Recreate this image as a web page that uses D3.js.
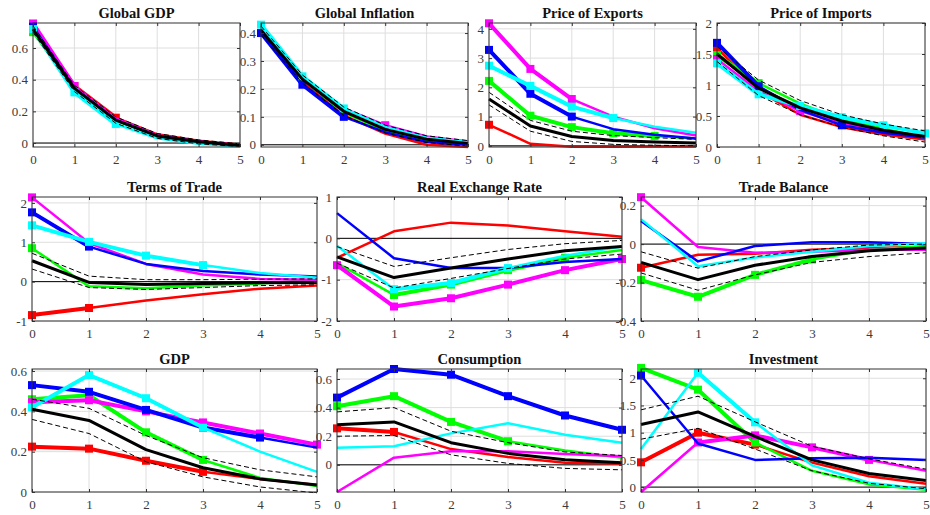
<!DOCTYPE html>
<html>
<head>
<meta charset="utf-8">
<script src="https://cdn.jsdelivr.net/npm/d3@7"></script>
<style>
  body { margin: 0; background: #fff; }
  svg { display: block; }
  text { font-family: "Liberation Serif", "Times New Roman", serif; }
</style>
</head>
<body>
<script>
// horizon and series order: red, green, magenta, blue, cyan ; band = median, upper, lower
const steps = [0, 1, 2, 3, 4, 5];
const panelTitles = ['Global GDP', 'Global Inflation', 'Price of Exports', 'Price of Imports',
    'Terms of Trade', 'Real Exchange Rate', 'Trade Balance', 'GDP', 'Consumption', 'Investment'];

const globalGdpLines = [
    [0.745, 0.36, 0.16, 0.055, 0.015, -0.01],
    [0.70, 0.34, 0.14, 0.045, 0.005, -0.015],
    [0.755, 0.36, 0.155, 0.05, 0.01, -0.012],
    [0.735, 0.345, 0.145, 0.045, 0.008, -0.015],
    [0.72, 0.32, 0.12, 0.03, -0.005, -0.022]
];
const globalGdpBand = [
    [0.72, 0.345, 0.145, 0.045, 0.008, -0.015],
    [0.74, 0.365, 0.165, 0.06, 0.02, -0.005],
    [0.70, 0.325, 0.125, 0.03, -0.005, -0.022]
];
const globalGdpMarks = [[0, 1, 2], [0], [0, 1], [0], [0, 1, 2]];
const globalGdpTicks = [0, 0.2, 0.4, 0.6];
const globalGdpRange = [-0.025, 0.758];

const globalInflLines = [
    [0.40, 0.225, 0.105, 0.04, 0.0, -0.008],
    [0.41, 0.235, 0.115, 0.05, 0.015, 0.0],
    [0.41, 0.24, 0.13, 0.07, 0.03, 0.012],
    [0.40, 0.215, 0.10, 0.045, 0.01, 0.0],
    [0.43, 0.245, 0.13, 0.065, 0.025, 0.01]
];
const globalInflBand = [
    [0.41, 0.235, 0.12, 0.055, 0.02, 0.005],
    [0.425, 0.25, 0.135, 0.07, 0.032, 0.015],
    [0.395, 0.22, 0.105, 0.042, 0.008, -0.005]
];
const globalInflMarks = [[], [], [3], [0, 1, 2], [0, 1, 2]];
const globalInflTicks = [0, 0.1, 0.2, 0.3, 0.4];
const globalInflRange = [-0.008, 0.436];

const exportPriceLines = [
    [0.72, 0.07, -0.03, -0.03, -0.02, -0.02],
    [2.22, 1.03, 0.64, 0.43, 0.34, 0.25],
    [4.19, 2.63, 1.6, 1.0, 0.6, 0.35],
    [3.28, 1.78, 1.0, 0.57, 0.38, 0.25],
    [2.74, 2.05, 1.34, 0.95, 0.65, 0.45]
];
const exportPriceBand = [
    [1.6, 0.68, 0.32, 0.18, 0.13, 0.1],
    [1.83, 0.87, 0.5, 0.35, 0.28, 0.22],
    [1.4, 0.5, 0.15, 0.05, 0.02, 0.0]
];
const exportPriceMarks = [[0], [0, 1, 2, 3, 4], [0, 1, 2], [0, 1, 2], [0, 1, 2, 3]];
const exportPriceTicks = [0, 1, 2, 3, 4];
const exportPriceRange = [-0.04, 4.2];

const importPriceLines = [
    [1.6, 0.9, 0.52, 0.32, 0.2, 0.12],
    [1.48, 1.03, 0.7, 0.45, 0.3, 0.15],
    [1.42, 0.9, 0.58, 0.38, 0.25, 0.16],
    [1.68, 0.98, 0.6, 0.35, 0.23, 0.15],
    [1.35, 0.85, 0.66, 0.48, 0.35, 0.22]
];
const importPriceBand = [
    [1.5, 0.95, 0.63, 0.42, 0.27, 0.17],
    [1.62, 1.08, 0.75, 0.52, 0.37, 0.26],
    [1.38, 0.83, 0.52, 0.32, 0.18, 0.08]
];
const importPriceMarks = [[0], [0, 1], [0, 2], [0, 1, 3], [0, 1, 2, 3, 4, 5]];
const importPriceTicks = [0, 0.5, 1, 1.5, 2];
const importPriceRange = [0, 2];

const totLines = [
    [-0.85, -0.67, -0.48, -0.32, -0.18, -0.1],
    [0.85, -0.12, -0.17, -0.1, -0.05, 0.05],
    [2.14, 0.98, 0.45, 0.18, 0.07, 0.05],
    [1.76, 0.89, 0.45, 0.27, 0.18, 0.13],
    [1.43, 1.01, 0.66, 0.42, 0.22, 0.1]
];
const totBand = [
    [0.53, -0.02, -0.07, -0.05, -0.03, -0.02],
    [0.72, 0.14, 0.05, 0.05, 0.06, 0.07],
    [0.32, -0.15, -0.2, -0.15, -0.1, -0.08]
];
const totMarks = [[0, 1], [0], [0], [0, 1], [0, 1, 2, 3]];
const totTicks = [-1, 0, 1, 2];
const totRange = [-1, 2.15];

const rerLines = [
    [-0.47, 0.17, 0.38, 0.31, 0.17, 0.04],
    [-0.6, -1.37, -1.12, -0.77, -0.47, -0.28],
    [-0.65, -1.65, -1.45, -1.12, -0.77, -0.5],
    [0.61, -0.48, -0.72, -0.72, -0.57, -0.5],
    [-0.18, -1.23, -1.08, -0.72, -0.42, -0.2]
];
const rerBand = [
    [-0.45, -0.95, -0.72, -0.5, -0.3, -0.2],
    [-0.2, -0.68, -0.47, -0.27, -0.13, -0.05],
    [-0.6, -1.2, -0.97, -0.73, -0.5, -0.38]
];
const rerMarks = [[], [1, 2, 3, 4], [0, 1, 2, 3, 4, 5], [], [1, 2, 3]];
const rerTicks = [-2, -1, 0, 1];
const rerRange = [-2, 1];

const tradeBalLines = [
    [-0.123, -0.055, -0.05, -0.03, -0.02, -0.015],
    [-0.187, -0.274, -0.16, -0.08, -0.03, -0.01],
    [0.244, -0.015, -0.045, -0.04, -0.03, -0.03],
    [0.12, -0.09, -0.01, 0.01, 0.01, 0.0],
    [0.13, -0.115, -0.07, -0.04, -0.01, 0.005]
];
const tradeBalBand = [
    [-0.095, -0.185, -0.11, -0.065, -0.035, -0.02],
    [-0.04, -0.125, -0.065, -0.03, -0.005, 0.0],
    [-0.15, -0.24, -0.16, -0.095, -0.065, -0.045]
];
const tradeBalMarks = [[0], [0, 1, 2, 3], [0], [], []];
const tradeBalTicks = [-0.4, -0.2, 0, 0.2];
const tradeBalRange = [-0.4, 0.245];

const gdpLines = [
    [0.225, 0.215, 0.155, 0.1, 0.065, 0.035],
    [0.46, 0.48, 0.296, 0.159, 0.07, 0.03],
    [0.445, 0.455, 0.4, 0.345, 0.29, 0.235],
    [0.53, 0.497, 0.407, 0.32, 0.27, 0.22],
    [0.42, 0.58, 0.465, 0.32, 0.2, 0.1]
];
const gdpBand = [
    [0.41, 0.355, 0.21, 0.12, 0.065, 0.035],
    [0.46, 0.415, 0.28, 0.17, 0.11, 0.075],
    [0.36, 0.29, 0.15, 0.075, 0.025, -0.005]
];
const gdpMarks = [[0, 1, 2, 3], [0, 1, 2, 3], [0, 1, 2, 3, 4, 5], [0, 1, 2, 3, 4], [0, 1, 2, 3]];
const gdpTicks = [0, 0.2, 0.4, 0.6];
const gdpRange = [0, 0.61];

const consLines = [
    [0.255, 0.23, 0.11, 0.055, 0.015, 0.01],
    [0.41, 0.48, 0.3, 0.165, 0.1, 0.05],
    [-0.19, 0.05, 0.095, 0.095, 0.075, 0.06],
    [0.47, 0.67, 0.63, 0.48, 0.345, 0.245],
    [0.12, 0.13, 0.22, 0.29, 0.21, 0.155]
];
const consBand = [
    [0.28, 0.3, 0.155, 0.08, 0.035, 0.015],
    [0.37, 0.4, 0.235, 0.155, 0.09, 0.065],
    [0.2, 0.205, 0.07, 0.01, -0.025, -0.035]
];
const consMarks = [[0, 1], [0, 1, 2, 3], [], [0, 1, 2, 3, 4, 5], []];
const consTicks = [0, 0.2, 0.4, 0.6];
const consRange = [-0.19, 0.67];

const invLines = [
    [0.455, 1.0, 0.78, 0.45, 0.2, 0.06],
    [2.19, 1.79, 0.82, 0.3, 0.05, -0.05],
    [-0.09, 0.82, 0.95, 0.73, 0.5, 0.3],
    [2.05, 0.8, 0.5, 0.53, 0.54, 0.5],
    [0.7, 2.1, 1.19, 0.4, 0.08, -0.04]
];
const invBand = [
    [1.15, 1.38, 0.93, 0.5, 0.25, 0.12],
    [1.42, 1.67, 1.2, 0.75, 0.52, 0.33],
    [0.88, 1.08, 0.7, 0.3, 0.07, -0.03]
];
const invMarks = [[0, 1, 2], [0, 1, 2], [1, 2, 3, 4], [0], [1, 2]];
const invTicks = [0, 0.5, 1, 1.5, 2];
const invRange = [-0.09, 2.17];

const width = 930;
const height = 515;
const fontFamily = '"Liberation Serif", "Times New Roman", serif';
const seriesColors = ['#ff0000', '#00ff00', '#ff00ff', '#0000ff', '#00ffff'];

const panels = [
    { lines: globalGdpLines, band: globalGdpBand, marks: globalGdpMarks, ticks: globalGdpTicks, range: globalGdpRange },
    { lines: globalInflLines, band: globalInflBand, marks: globalInflMarks, ticks: globalInflTicks, range: globalInflRange },
    { lines: exportPriceLines, band: exportPriceBand, marks: exportPriceMarks, ticks: exportPriceTicks, range: exportPriceRange },
    { lines: importPriceLines, band: importPriceBand, marks: importPriceMarks, ticks: importPriceTicks, range: importPriceRange },
    { lines: totLines, band: totBand, marks: totMarks, ticks: totTicks, range: totRange },
    { lines: rerLines, band: rerBand, marks: rerMarks, ticks: rerTicks, range: rerRange },
    { lines: tradeBalLines, band: tradeBalBand, marks: tradeBalMarks, ticks: tradeBalTicks, range: tradeBalRange },
    { lines: gdpLines, band: gdpBand, marks: gdpMarks, ticks: gdpTicks, range: gdpRange },
    { lines: consLines, band: consBand, marks: consMarks, ticks: consTicks, range: consRange },
    { lines: invLines, band: invBand, marks: invMarks, ticks: invTicks, range: invRange }
];

// subplot boxes [left, top, width, height]
const boxes = [
    [33, 23, 207, 124], [261, 23, 207, 124], [489, 23, 207, 124], [717, 23, 208, 124],
    [32, 197, 285, 124], [337, 197, 285, 124], [641, 197, 285, 124],
    [32, 369, 285, 123], [337, 369, 285, 123], [641, 369, 285, 123]
];

const svg = d3.select('body').append('svg')
    .attr('width', width)
    .attr('height', height);

panels.forEach((p, i) => drawPanel(p, boxes[i], panelTitles[i]));

function drawPanel(p, box, title) {
    const [left, top, w, h] = box;
    const x = d3.scaleLinear().domain([0, 5]).range([0, w]);
    const y = d3.scaleLinear().domain(p.range).range([h, 0]);
    const g = svg.append('g').attr('transform', `translate(${left},${top})`);

    g.append('rect').attr('width', w).attr('height', h).attr('fill', '#fff');

    // grid
    g.append('g').selectAll('line').data(steps).enter().append('line')
        .attr('x1', d => x(d)).attr('x2', d => x(d))
        .attr('y1', 0).attr('y2', h)
        .attr('stroke', '#dedede').attr('stroke-width', 1);
    g.append('g').selectAll('line').data(p.ticks).enter().append('line')
        .attr('x1', 0).attr('x2', w)
        .attr('y1', d => y(d)).attr('y2', d => y(d))
        .attr('stroke', '#dedede').attr('stroke-width', 1);

    // zero line
    if (p.range[0] < 0 && p.range[1] > 0) {
        g.append('line')
            .attr('x1', 0).attr('x2', w)
            .attr('y1', y(0)).attr('y2', y(0))
            .attr('stroke', '#000').attr('stroke-width', 1);
    }

    const line = d3.line().x((d, i) => x(steps[i])).y(d => y(d));

    p.lines.forEach((vals, k) => {
        const color = seriesColors[k];
        const marks = p.marks[k];
        g.append('path').attr('d', line(vals))
            .attr('fill', 'none').attr('stroke', color).attr('stroke-width', 2.5)
            .attr('stroke-linejoin', 'round');
        // thicker piece where restrictions hold
        for (let i = 0; i < 5; i++) {
            if (marks.includes(i) && marks.includes(i + 1)) {
                g.append('line')
                    .attr('x1', x(steps[i])).attr('y1', y(vals[i]))
                    .attr('x2', x(steps[i + 1])).attr('y2', y(vals[i + 1]))
                    .attr('stroke', color).attr('stroke-width', 4).attr('stroke-linecap', 'round');
            }
        }
        g.append('g').selectAll('rect').data(marks).enter().append('rect')
            .attr('x', d => x(steps[d]) - 4)
            .attr('y', d => y(vals[d]) - 4)
            .attr('width', 8).attr('height', 8)
            .attr('fill', color);
    });

    // credible band and median
    [p.band[1], p.band[2]].forEach(vals => {
        g.append('path').attr('d', line(vals))
            .attr('fill', 'none').attr('stroke', '#000').attr('stroke-width', 1)
            .attr('stroke-dasharray', '5,3');
    });
    g.append('path').attr('d', line(p.band[0]))
        .attr('fill', 'none').attr('stroke', '#000').attr('stroke-width', 3)
        .attr('stroke-linejoin', 'round');

    // axes
    const fmt = d => String(d);
    const xAxis = g.append('g').attr('transform', `translate(0,${h})`)
        .call(d3.axisBottom(x).tickValues(steps).tickSize(-3).tickPadding(8).tickFormat(fmt));
    const yAxis = g.append('g')
        .call(d3.axisLeft(y).tickValues(p.ticks).tickSize(-3).tickPadding(5).tickFormat(fmt));
    const xTop = g.append('g')
        .call(d3.axisTop(x).tickValues(steps).tickSize(-3).tickFormat(''));
    const yRight = g.append('g').attr('transform', `translate(${w},0)`)
        .call(d3.axisRight(y).tickValues(p.ticks).tickSize(-3).tickFormat(''));

    [xAxis, yAxis, xTop, yRight].forEach(a => {
        a.attr('font-family', fontFamily).attr('font-size', 13);
        a.select('.domain').remove();
        a.selectAll('line').attr('stroke', '#333');
        a.selectAll('text').attr('fill', '#3a3a3a')
            .style('font-size', '13px').style('font-family', fontFamily);
    });

    g.append('rect').attr('width', w).attr('height', h)
        .attr('fill', 'none').attr('stroke', '#333').attr('stroke-width', 1);

    svg.append('text')
        .attr('x', left + w / 2).attr('y', top - 5)
        .attr('text-anchor', 'middle')
        .style('font-size', '14.5px').style('font-weight', 'bold')
        .style('font-family', fontFamily)
        .attr('fill', '#111')
        .text(title);
}
</script>
</body>
</html>
